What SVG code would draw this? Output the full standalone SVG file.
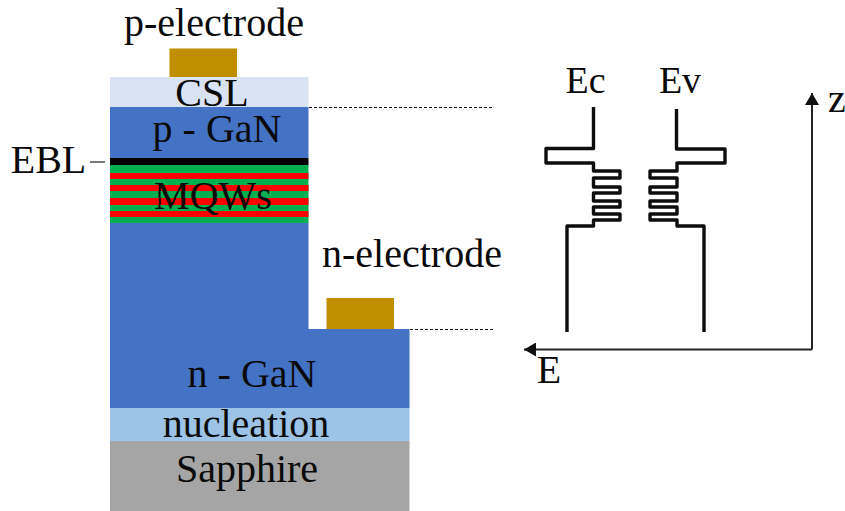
<svg xmlns="http://www.w3.org/2000/svg" width="845" height="511" viewBox="0 0 845 511">
<style>
text{font-family:"Liberation Serif","Times New Roman",serif;font-size:40px;fill:#0a0a0a;text-anchor:middle}
.gold{fill:#bf8f00}.g{fill:#00b050}.r{fill:#ff0000}
.band{fill:none;stroke:#0d0d0d;stroke-width:3.4;stroke-linejoin:round}
.dash{fill:none;stroke:#111;stroke-width:1.2;stroke-dasharray:3 2}
.axis{fill:none;stroke:#222;stroke-width:2}
.sm{font-size:38px}
</style>
<defs><marker id="ah" markerUnits="userSpaceOnUse" markerWidth="14" markerHeight="14" refX="12" refY="7" orient="auto"><path d="M0 0L12 7L0 14Z" fill="#111"/></marker></defs>
<rect width="845" height="511" fill="#fff"/>
<g id="sapphire"><rect x="110" y="441" width="299.500" height="70" fill="#a5a5a5"/><text x="247" y="482">Sapphire</text></g>
<g id="nucleation"><rect x="110" y="408" width="299.500" height="33" fill="#9dc3e6"/><text x="246" y="437">nucleation</text></g>
<g id="n-gan"><path d="M110 223H308.500V329H409.500V408H110Z" fill="#4472c4"/><text x="252" y="387">n - GaN</text></g>
<g id="mqws"><rect x="110" y="165" width="198.500" height="58" class="g"/>
<rect x="110" y="173" width="198.500" height="6" class="r"/><rect x="110" y="185" width="198.500" height="6" class="r"/><rect x="110" y="198" width="198.500" height="7" class="r"/><rect x="110" y="211" width="198.500" height="6" class="r"/><text x="213" y="209">MQWs</text></g>
<g id="ebl"><rect x="110" y="158" width="198.500" height="7" fill="#000"/><text x="48.500" y="173">EBL</text><path d="M90 162H105" stroke="#222" stroke-width="1.200"/></g>
<g id="p-gan"><rect x="110" y="107" width="198.500" height="51" fill="#4472c4"/><text x="217" y="142">p - GaN</text></g>
<g id="csl"><rect x="110" y="77" width="198.500" height="30" fill="#dae3f3"/><text x="212" y="106">CSL</text></g>
<g id="p-electrode"><rect x="169.500" y="48.500" width="67.500" height="28.500" class="gold"/><text x="214" y="36">p-electrode</text></g>
<g id="n-electrode"><rect x="326.500" y="298" width="67.500" height="31" class="gold"/><text x="412" y="267">n-electrode</text></g>
<g id="connectors">
<path class="dash" d="M309 107.500H492M410 329.500H495"/>
<path class="axis" d="M812 349.500V93" marker-end="url(#ah)"/>
<path class="axis" d="M812 349.500H524" marker-end="url(#ah)"/>
</g>
<g id="ec"><path class="band" d="M593.500 107V148.500H546V163H593.500V171H620V178H593.500V187H620V193H593.500V201H620V207H593.500V214H620V220H593.500V226H567V332"/><text class="sm" x="585.500" y="93">Ec</text></g>
<g id="ev"><path class="band" d="M676.500 109V149H725V163H677V171H650V178H677V187H650V193H677V201H650V207H677V214H650V220H677V226H704V332"/><text class="sm" x="680" y="93">Ev</text></g>
<g id="axis-labels"><text x="837" y="112">z</text><text x="549" y="383">E</text></g>
</svg>
